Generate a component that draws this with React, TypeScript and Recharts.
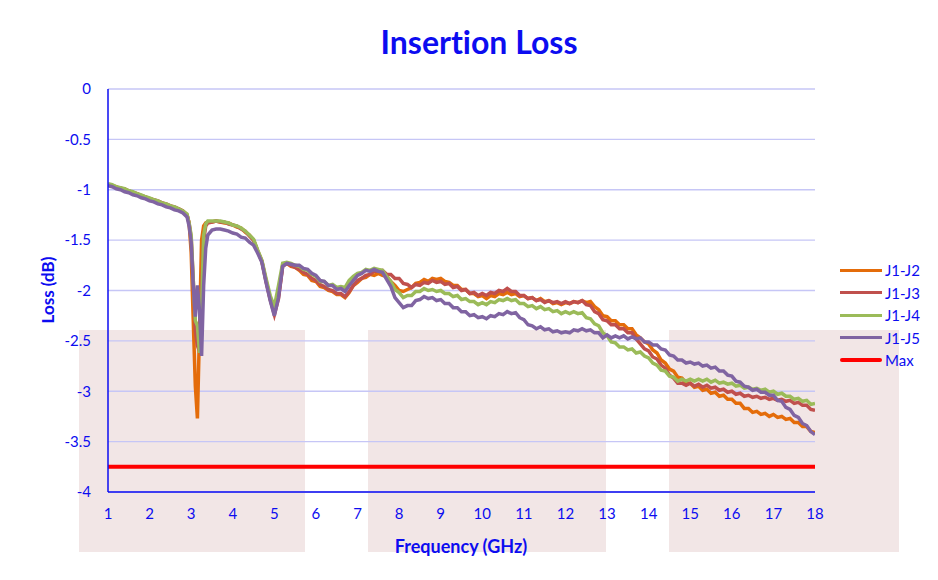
import { CartesianGrid, Line, LineChart, XAxis, YAxis } from "recharts";

// Frequency sweep (GHz), denser around the 3 GHz resonance
const FREQ_GHZ = [
  1.0, 1.1, 1.2, 1.3, 1.4, 1.5, 1.6, 1.7, 1.8, 1.9,
  2.0, 2.1, 2.2, 2.3, 2.4, 2.5, 2.6, 2.7, 2.8, 2.9,
  2.95, 3.0, 3.05, 3.1, 3.15, 3.2, 3.25, 3.3, 3.35, 3.4,
  3.5, 3.6, 3.7, 3.8, 3.9, 4.0, 4.1, 4.2, 4.3, 4.4,
  4.5, 4.6, 4.7, 4.8, 4.9, 5.0, 5.1, 5.2, 5.3, 5.4,
  5.5, 5.6, 5.7, 5.8, 5.9, 6.0, 6.1, 6.2, 6.3, 6.4,
  6.5, 6.6, 6.7, 6.8, 6.9, 7.0, 7.1, 7.2, 7.3, 7.4,
  7.5, 7.6, 7.7, 7.8, 7.9, 8.0, 8.1, 8.2, 8.3, 8.4,
  8.5, 8.6, 8.7, 8.8, 8.9, 9.0, 9.1, 9.2, 9.3, 9.4,
  9.5, 9.6, 9.7, 9.8, 9.9, 10.0, 10.1, 10.2, 10.3, 10.4,
  10.5, 10.6, 10.7, 10.8, 10.9, 11.0, 11.1, 11.2, 11.3, 11.4,
  11.5, 11.6, 11.7, 11.8, 11.9, 12.0, 12.1, 12.2, 12.3, 12.4,
  12.5, 12.6, 12.7, 12.8, 12.9, 13.0, 13.1, 13.2, 13.3, 13.4,
  13.5, 13.6, 13.7, 13.8, 13.9, 14.0, 14.1, 14.2, 14.3, 14.4,
  14.5, 14.6, 14.7, 14.8, 14.9, 15.0, 15.1, 15.2, 15.3, 15.4,
  15.5, 15.6, 15.7, 15.8, 15.9, 16.0, 16.1, 16.2, 16.3, 16.4,
  16.5, 16.6, 16.7, 16.8, 16.9, 17.0, 17.1, 17.2, 17.3, 17.4,
  17.5, 17.6, 17.7, 17.8, 17.9, 18.0,
];

const LOSS_J1_J2 = [
  -0.95, -0.96, -0.97, -0.99, -0.99, -1.02, -1.03, -1.04, -1.06, -1.07,
  -1.09, -1.10, -1.12, -1.13, -1.15, -1.16, -1.18, -1.19, -1.21, -1.25,
  -1.33, -1.62, -2.30, -2.95, -3.27, -2.40, -1.50, -1.36, -1.33, -1.32,
  -1.32, -1.31, -1.32, -1.33, -1.33, -1.35, -1.37, -1.38, -1.42, -1.45,
  -1.50, -1.61, -1.71, -1.90, -2.08, -2.22, -2.05, -1.75, -1.73, -1.76,
  -1.77, -1.80, -1.84, -1.85, -1.90, -1.91, -1.96, -1.97, -2.00, -2.01,
  -2.04, -2.04, -2.07, -2.02, -1.95, -1.92, -1.88, -1.87, -1.84, -1.85,
  -1.83, -1.85, -1.86, -1.91, -1.95, -2.00, -2.01, -1.99, -1.97, -1.93,
  -1.92, -1.89, -1.91, -1.88, -1.89, -1.88, -1.91, -1.92, -1.95, -1.95,
  -1.99, -1.99, -2.03, -2.03, -2.06, -2.05, -2.08, -2.05, -2.06, -2.03,
  -2.04, -2.02, -2.04, -2.03, -2.06, -2.05, -2.08, -2.07, -2.10, -2.08,
  -2.11, -2.10, -2.13, -2.12, -2.14, -2.12, -2.13, -2.11, -2.12, -2.10,
  -2.12, -2.11, -2.16, -2.19, -2.25, -2.26, -2.30, -2.30, -2.34, -2.34,
  -2.38, -2.38, -2.44, -2.47, -2.51, -2.53, -2.59, -2.62, -2.69, -2.72,
  -2.78, -2.80, -2.86, -2.87, -2.92, -2.92, -2.96, -2.95, -2.99, -2.98,
  -3.02, -3.01, -3.05, -3.04, -3.08, -3.08, -3.12, -3.12, -3.17, -3.17,
  -3.21, -3.20, -3.23, -3.22, -3.25, -3.23, -3.26, -3.25, -3.28, -3.27,
  -3.31, -3.31, -3.35, -3.35, -3.40, -3.41,
];

const LOSS_J1_J3 = [
  -0.95, -0.96, -0.98, -0.98, -1.00, -1.01, -1.03, -1.04, -1.06, -1.07,
  -1.09, -1.10, -1.11, -1.13, -1.14, -1.16, -1.17, -1.19, -1.21, -1.25,
  -1.33, -1.48, -1.90, -2.40, -2.55, -2.60, -2.10, -1.50, -1.36, -1.33,
  -1.32, -1.31, -1.32, -1.32, -1.34, -1.35, -1.36, -1.39, -1.41, -1.46,
  -1.50, -1.61, -1.71, -1.91, -2.09, -2.24, -2.08, -1.76, -1.73, -1.75,
  -1.77, -1.79, -1.82, -1.84, -1.88, -1.90, -1.94, -1.96, -1.99, -2.00,
  -2.03, -2.03, -2.06, -2.01, -1.95, -1.90, -1.88, -1.85, -1.84, -1.81,
  -1.81, -1.80, -1.84, -1.84, -1.88, -1.88, -1.93, -1.94, -1.97, -1.94,
  -1.95, -1.92, -1.93, -1.90, -1.92, -1.91, -1.94, -1.93, -1.97, -1.96,
  -2.00, -1.99, -2.03, -2.02, -2.05, -2.03, -2.05, -2.02, -2.03, -2.00,
  -2.01, -1.98, -2.01, -2.01, -2.05, -2.05, -2.08, -2.07, -2.10, -2.09,
  -2.12, -2.10, -2.12, -2.11, -2.13, -2.11, -2.13, -2.11, -2.12, -2.10,
  -2.14, -2.15, -2.21, -2.23, -2.29, -2.30, -2.34, -2.34, -2.38, -2.38,
  -2.42, -2.42, -2.48, -2.53, -2.58, -2.60, -2.66, -2.68, -2.74, -2.77,
  -2.84, -2.87, -2.92, -2.92, -2.94, -2.92, -2.95, -2.93, -2.96, -2.94,
  -2.97, -2.96, -2.99, -2.98, -3.01, -3.00, -3.03, -3.02, -3.05, -3.04,
  -3.06, -3.05, -3.07, -3.06, -3.08, -3.07, -3.09, -3.08, -3.10, -3.09,
  -3.12, -3.11, -3.14, -3.14, -3.18, -3.19,
];

const LOSS_J1_J4 = [
  -0.94, -0.95, -0.97, -0.98, -0.99, -1.01, -1.02, -1.04, -1.05, -1.07,
  -1.08, -1.10, -1.11, -1.13, -1.14, -1.16, -1.17, -1.19, -1.21, -1.24,
  -1.33, -1.45, -1.90, -2.30, -2.35, -2.62, -2.20, -1.45, -1.34, -1.31,
  -1.31, -1.31, -1.31, -1.32, -1.33, -1.35, -1.36, -1.38, -1.41, -1.45,
  -1.49, -1.60, -1.70, -1.88, -2.05, -2.16, -1.95, -1.73, -1.72, -1.73,
  -1.75, -1.76, -1.79, -1.80, -1.84, -1.86, -1.91, -1.91, -1.95, -1.94,
  -1.97, -1.96, -1.97, -1.90, -1.86, -1.83, -1.82, -1.79, -1.80, -1.78,
  -1.79, -1.80, -1.86, -1.91, -1.99, -2.02, -2.07, -2.05, -2.05, -2.01,
  -2.01, -1.98, -2.00, -1.99, -2.01, -2.00, -2.03, -2.03, -2.06, -2.05,
  -2.09, -2.08, -2.11, -2.11, -2.14, -2.12, -2.14, -2.11, -2.12, -2.09,
  -2.10, -2.08, -2.10, -2.09, -2.13, -2.13, -2.16, -2.15, -2.18, -2.16,
  -2.19, -2.18, -2.21, -2.20, -2.23, -2.21, -2.23, -2.21, -2.23, -2.22,
  -2.27, -2.28, -2.33, -2.35, -2.42, -2.45, -2.51, -2.52, -2.56, -2.56,
  -2.59, -2.58, -2.62, -2.61, -2.65, -2.67, -2.72, -2.74, -2.79, -2.80,
  -2.85, -2.86, -2.90, -2.88, -2.90, -2.88, -2.90, -2.88, -2.90, -2.88,
  -2.91, -2.89, -2.92, -2.91, -2.93, -2.92, -2.95, -2.94, -2.97, -2.96,
  -2.98, -2.97, -2.99, -2.98, -3.01, -3.00, -3.03, -3.02, -3.05, -3.05,
  -3.08, -3.07, -3.10, -3.09, -3.13, -3.12,
];

const LOSS_J1_J5 = [
  -0.96, -0.97, -0.99, -1.00, -1.02, -1.03, -1.05, -1.06, -1.08, -1.09,
  -1.11, -1.12, -1.14, -1.15, -1.17, -1.18, -1.20, -1.21, -1.23, -1.27,
  -1.36, -1.52, -1.95, -2.26, -1.95, -2.20, -2.65, -1.95, -1.58, -1.45,
  -1.40, -1.39, -1.39, -1.40, -1.41, -1.43, -1.44, -1.47, -1.48, -1.52,
  -1.55, -1.63, -1.72, -1.92, -2.10, -2.25, -2.07, -1.76, -1.73, -1.74,
  -1.75, -1.75, -1.78, -1.79, -1.83, -1.85, -1.90, -1.91, -1.95, -1.95,
  -1.99, -1.98, -2.01, -1.95, -1.90, -1.85, -1.83, -1.80, -1.81, -1.79,
  -1.81, -1.82, -1.89, -1.96, -2.07, -2.12, -2.17, -2.15, -2.15, -2.10,
  -2.09, -2.06, -2.08, -2.07, -2.10, -2.09, -2.13, -2.13, -2.17, -2.17,
  -2.21, -2.21, -2.25, -2.24, -2.27, -2.26, -2.28, -2.25, -2.26, -2.23,
  -2.24, -2.21, -2.23, -2.22, -2.27, -2.29, -2.34, -2.35, -2.38, -2.36,
  -2.39, -2.38, -2.41, -2.40, -2.42, -2.41, -2.42, -2.39, -2.40, -2.38,
  -2.40, -2.39, -2.42, -2.42, -2.47, -2.44, -2.47, -2.45, -2.47, -2.45,
  -2.48, -2.46, -2.48, -2.47, -2.51, -2.51, -2.54, -2.54, -2.58, -2.59,
  -2.64, -2.65, -2.69, -2.69, -2.72, -2.71, -2.73, -2.72, -2.75, -2.74,
  -2.77, -2.76, -2.80, -2.80, -2.84, -2.85, -2.90, -2.91, -2.95, -2.96,
  -2.99, -2.98, -3.01, -3.01, -3.04, -3.04, -3.09, -3.10, -3.16, -3.18,
  -3.24, -3.26, -3.32, -3.34, -3.40, -3.43,
];

const MAX_LOSS = -3.75;

const X_TICKS = [1, 2, 3, 4, 5, 6, 7, 8, 9, 10, 11, 12, 13, 14, 15, 16, 17, 18];
const Y_TICKS = [0, -0.5, -1, -1.5, -2, -2.5, -3, -3.5, -4];

const SERIES = [
  { key: "j12", name: "J1-J2", color: "#E46C0A", values: LOSS_J1_J2 },
  { key: "j13", name: "J1-J3", color: "#C0504D", values: LOSS_J1_J3 },
  { key: "j14", name: "J1-J4", color: "#9BBB59", values: LOSS_J1_J4 },
  { key: "j15", name: "J1-J5", color: "#8064A2", values: LOSS_J1_J5 },
];

const BLUE = "#0c0cf0";
const FONT = "Lato, 'Open Sans', sans-serif";

// pale pink panels sitting behind the plot
const SHADE_BANDS = [
  { left: 79, width: 226 },
  { left: 368, width: 238 },
  { left: 669, width: 230 },
];

const data = FREQ_GHZ.map((f, i) => {
  const row: Record<string, number> = { freq: f, max: MAX_LOSS };
  SERIES.forEach((s) => {
    row[s.key] = s.values[i];
  });
  return row;
});

const legendItems = [
  ...SERIES.map((s) => ({ name: s.name, color: s.color, thick: false })),
  { name: "Max", color: "#FF0000", thick: true },
];

function ChartLegend() {
  return (
    <div style={{ position: "absolute", left: 840, top: 259 }}>
      {legendItems.map((it) => (
        <div
          key={it.name}
          style={{ display: "flex", alignItems: "center", height: 22.5 }}
        >
          <div
            style={{
              width: 42,
              height: it.thick ? 4 : 3,
              background: it.color,
              borderRadius: it.thick ? 2 : 0,
            }}
          />
          <span
            style={{
              marginLeft: 3,
              fontSize: 15,
              color: BLUE,
              fontFamily: FONT,
            }}
          >
            {it.name}
          </span>
        </div>
      ))}
    </div>
  );
}

export default function App() {
  return (
    <div
      style={{
        position: "relative",
        width: 938,
        height: 580,
        margin: -8,
        background: "#ffffff",
        overflow: "hidden",
        fontFamily: FONT,
        fontVariantLigatures: "none",
      }}
    >
      {SHADE_BANDS.map((b) => (
        <div
          key={b.left}
          style={{
            position: "absolute",
            left: b.left,
            top: 330,
            width: b.width,
            height: 222,
            background: "#f2e6e6",
          }}
        />
      ))}
      <div style={{ position: "absolute", left: 0, top: 0 }}>
        <LineChart
          width={938}
          height={580}
          data={data}
          margin={{ top: 89, right: 123, bottom: 28, left: 48 }}
        >
          <CartesianGrid vertical={false} stroke="#c6c6f6" strokeWidth={1.3} />
          <XAxis
            dataKey="freq"
            type="number"
            domain={[1, 18]}
            ticks={X_TICKS}
            allowDataOverflow
            height={60}
            tickLine={false}
            tickSize={0}
            tickMargin={16}
            axisLine={{ stroke: BLUE, strokeWidth: 1.5 }}
            tick={{ fontSize: 15, fill: BLUE, fontFamily: FONT }}
          />
          <YAxis
            type="number"
            domain={[-4, 0]}
            ticks={Y_TICKS}
            allowDataOverflow
            width={60}
            tickLine={false}
            tickSize={0}
            tickMargin={17}
            axisLine={{ stroke: BLUE, strokeWidth: 1.5 }}
            tick={{ fontSize: 15, fill: BLUE, fontFamily: FONT }}
          />
          {SERIES.map((s) => (
            <Line
              key={s.key}
              type="linear"
              dataKey={s.key}
              name={s.name}
              stroke={s.color}
              strokeWidth={3.5}
              dot={false}
              isAnimationActive={false}
            />
          ))}
          <Line
            type="linear"
            dataKey="max"
            name="Max"
            stroke="#FF0000"
            strokeWidth={4}
            strokeLinecap="round"
            dot={false}
            isAnimationActive={false}
          />
        </LineChart>
      </div>
      <div
        style={{
          position: "absolute",
          left: 0,
          width: 958,
          top: 22,
          textAlign: "center",
          fontSize: 32,
          fontWeight: 700,
          color: BLUE,
        }}
      >
        Insertion Loss
      </div>
      <div
        style={{
          position: "absolute",
          left: 47,
          top: 290,
          transform: "translate(-50%, -50%) rotate(-90deg)",
          fontSize: 17,
          fontWeight: 700,
          color: BLUE,
          whiteSpace: "nowrap",
        }}
      >
        Loss (dB)
      </div>
      <div
        style={{
          position: "absolute",
          left: 461,
          top: 546,
          transform: "translate(-50%, -50%)",
          fontSize: 18,
          fontWeight: 700,
          color: BLUE,
          whiteSpace: "nowrap",
        }}
      >
        Frequency (GHz)
      </div>
      <ChartLegend />
      {/* outer frame: top and left edges only */}
      <svg
        width={938}
        height={580}
        style={{ position: "absolute", left: 0, top: 0, zIndex: 20, pointerEvents: "none" }}
      >
        <path d="M 6 580 L 6 4 L 938 4" fill="none" stroke="#0000ff" strokeWidth={2} />
      </svg>
    </div>
  );
}
